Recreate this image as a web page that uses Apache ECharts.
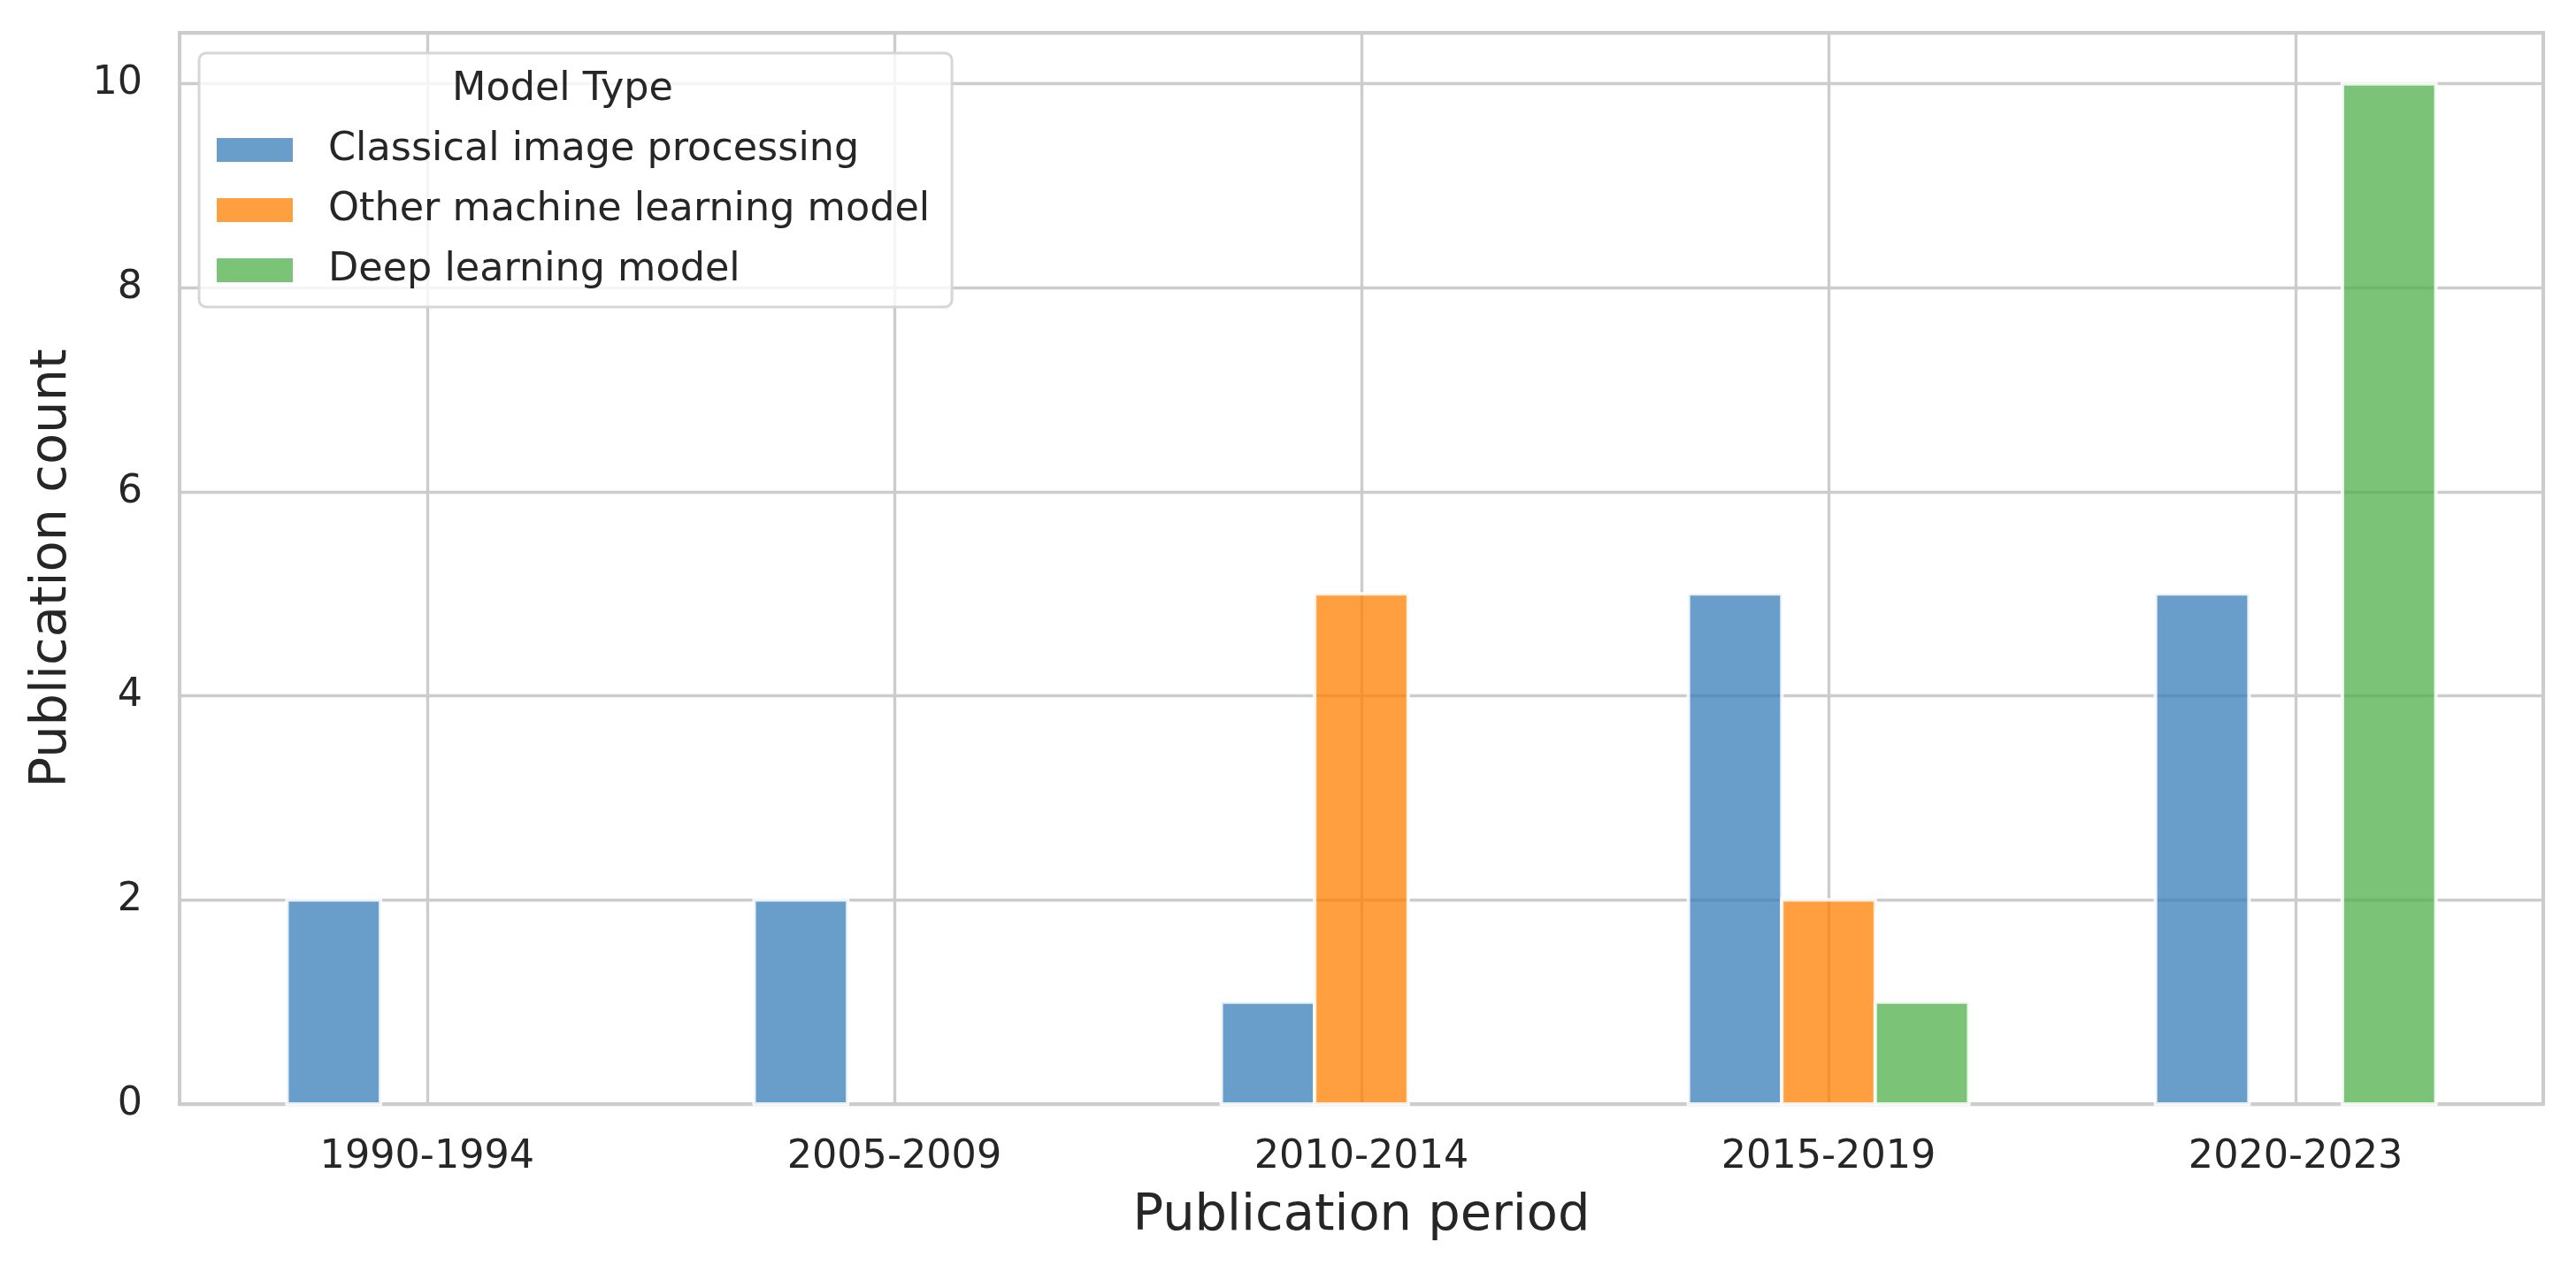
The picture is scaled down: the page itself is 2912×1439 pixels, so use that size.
<!DOCTYPE html>
<html>
<head>
<meta charset="utf-8">
<script src="https://cdn.jsdelivr.net/npm/echarts@6/dist/echarts.min.js"></script>
<style>
  html, body { margin: 0; padding: 0; background: #ffffff; }
  #chart { width: 2912px; height: 1439px; }
</style>
</head>
<body>
<div id="chart"></div>
<script>
// ---- data ----
var categories = ['1990-1994', '2005-2009', '2010-2014', '2015-2019', '2020-2023'];
var seriesNames = ['Classical image processing', 'Other machine learning model', 'Deep learning model'];
var classicalValues = [2, 2, 1, 5, 5];
var otherMLValues = [0, 0, 5, 2, 0];
var deepValues = [0, 0, 0, 1, 10];
var yTicks = [0, 2, 4, 6, 8, 10];

// ---- styling ----
var FONT = 'DejaVu Sans';
var TEXT = '#262626';
var GRID = '#cccccc';
var colors = ['rgba(55,126,184,0.75)', 'rgba(255,127,0,0.75)', 'rgba(77,175,74,0.75)'];
var offsets = [-0.2, 0, 0.2];
var BAR_W = 0.2;

function toPoints(vals) {
  var out = [];
  for (var i = 0; i < vals.length; i++) {
    if (vals[i] > 0) out.push([i, vals[i]]);
  }
  return out;
}

function makeRender(k) {
  return function (params, api) {
    var x = api.value(0) + offsets[k];
    var y = api.value(1);
    var p0 = api.coord([x - BAR_W / 2, y]);
    var p1 = api.coord([x + BAR_W / 2, 0]);
    return {
      type: 'rect',
      shape: { x: p0[0], y: p0[1], width: p1[0] - p0[0], height: p1[1] - p0[1] },
      style: { fill: colors[k], stroke: 'rgba(255,255,255,0.85)', lineWidth: 4 }
    };
  };
}

var valueSets = [classicalValues, otherMLValues, deepValues];
var series = valueSets.map(function (vals, k) {
  return {
    name: seriesNames[k],
    type: 'custom',
    renderItem: makeRender(k),
    itemStyle: { color: colors[k] },
    encode: { x: 0, y: 1 },
    data: toPoints(vals)
  };
});

var chart = echarts.init(document.getElementById('chart'), null, { renderer: 'canvas' });
chart.setOption({
  animation: false,
  backgroundColor: '#ffffff',
  textStyle: { fontFamily: FONT, color: TEXT },
  grid: {
    left: 203, right: 37, top: 37, bottom: 191,
    show: true, borderColor: GRID, borderWidth: 4, backgroundColor: 'transparent',
    containLabel: false
  },
  xAxis: {
    type: 'value',
    min: -0.53,
    max: 4.53,
    name: 'Publication period',
    nameLocation: 'middle',
    nameGap: 98,
    nameTextStyle: { fontFamily: FONT, fontSize: 57.5, color: TEXT },
    axisLine: { show: false },
    axisTick: { show: false, customValues: [0, 1, 2, 3, 4] },
    axisLabel: {
      customValues: [0, 1, 2, 3, 4],
      formatter: function (v) { return categories[Math.round(v)]; },
      fontFamily: FONT, fontSize: 44.5, color: TEXT, margin: 38
    },
    splitLine: { show: true, lineStyle: { color: GRID, width: 3.4 } }
  },
  yAxis: {
    type: 'value',
    min: 0,
    max: 10.5,
    interval: 2,
    name: 'Publication count',
    nameLocation: 'middle',
    nameGap: 115,
    nameTextStyle: { fontFamily: FONT, fontSize: 57.5, color: TEXT },
    axisLine: { show: false },
    axisTick: { show: false },
    axisLabel: {
      showMaxLabel: false,
      fontFamily: FONT, fontSize: 44.5, color: TEXT, margin: 42,
      formatter: function (v) { return yTicks.indexOf(v) >= 0 ? String(v) : ''; }
    },
    splitLine: { show: true, lineStyle: { color: GRID, width: 3.4 } }
  },
  legend: {
    orient: 'vertical',
    left: 225,
    top: 60,
    padding: [87, 25, 19, 20],
    itemWidth: 86,
    itemHeight: 27,
    itemGap: 23,
    icon: 'rect',
    backgroundColor: 'rgba(255,255,255,0.8)',
    borderColor: '#d6d6d6',
    borderWidth: 3,
    borderRadius: 8,
    textStyle: { fontFamily: FONT, fontSize: 44.5, color: TEXT, lineHeight: 44, padding: [0, 0, 0, 35] },
    data: seriesNames
  },
  graphic: [{
    type: 'text',
    z: 100,
    x: 636,
    y: 101.5,
    style: { text: 'Model Type', font: '44.5px "DejaVu Sans"', fill: TEXT, align: 'center', verticalAlign: 'middle' }
  }],
  series: series
});
</script>
</body>
</html>
